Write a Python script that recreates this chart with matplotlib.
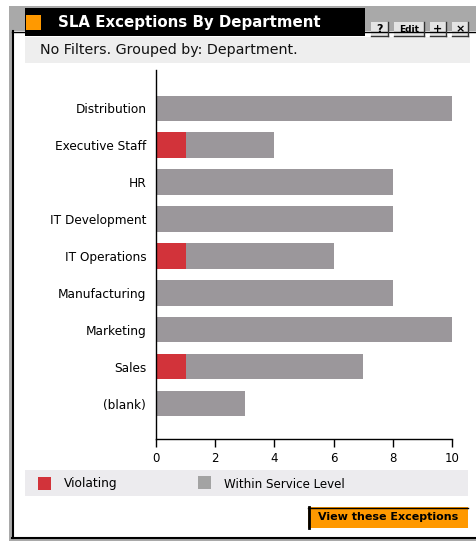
import matplotlib
matplotlib.use("Agg")
import matplotlib.pyplot as plt
from matplotlib.patches import Rectangle

departments = ["Distribution", "Executive Staff", "HR", "IT Development",
               "IT Operations", "Manufacturing", "Marketing", "Sales", "(blank)"]
violating = [0, 1, 0, 0, 1, 0, 0, 1, 0]
within = [10, 3, 8, 8, 5, 8, 10, 6, 3]
xticks = [0, 2, 4, 6, 8, 10]

RED = "#d2333a"
GRAY = "#9b979b"

W, H = 476, 541
fig = plt.figure(figsize=(W / 100, H / 100), dpi=100)
fig.patch.set_facecolor("white")


def rect(x0, y0, x1, y1, **kw):
    fig.patches.append(Rectangle((x0 / W, 1 - y1 / H), (x1 - x0) / W, (y1 - y0) / H,
                                 transform=fig.transFigure, zorder=-5, **kw))


def text(x, y, s, **kw):
    fig.text(x / W, 1 - y / H, s, **kw)


def line(xs, ys, **kw):
    fig.add_artist(plt.Line2D([v / W for v in xs], [1 - v / H for v in ys],
                              transform=fig.transFigure, zorder=-4, **kw))


# outer gray frame
rect(9, 6, 476, 31, facecolor="#a9a9a9", edgecolor="none", lw=0)
rect(9, 6, 12, 541, facecolor="#a9a9a9", edgecolor="none", lw=0)
rect(9, 538, 476, 541, facecolor="#a9a9a9", edgecolor="none", lw=0)
line([12.5, 12.5], [31, 538], color="black", lw=1.5)
line([12, 476], [537.5, 537.5], color="black", lw=1.5)
line([12, 476], [31.5, 31.5], color="black", lw=1)

# title bar
rect(25, 8, 365, 36, facecolor="black", edgecolor="none", lw=0)
rect(26, 15, 41, 30, facecolor="#ff9900", edgecolor="none", lw=0)
text(58, 22, "SLA Exceptions By Department", color="white", fontsize=10.8,
     fontweight="bold", va="center", ha="left", family="DejaVu Sans")

# small buttons
for x0, x1, lab in [(371, 388, "?"), (394, 424, "Edit"), (430, 446, "+"), (452, 468, "×")]:
    rect(x0, 22, x1, 36, facecolor="#e4e4e4", edgecolor="none", lw=0)
    line([x0, x1], [36, 36], color="#333333", lw=1)
    line([x1, x1], [22, 36], color="#333333", lw=1)
    text((x0 + x1) / 2, 29, lab, color="black", fontsize=8 if lab != "Edit" else 6.5,
         fontweight="bold", ha="center", va="center")

# subheader
rect(25, 37, 470, 63, facecolor="#eeeeee", edgecolor="none", lw=0)
text(40, 50, "No Filters. Grouped by: Department.", fontsize=10.3, va="center",
     ha="left", color="#111111")

# chart axes
ax_left, ax_right, ax_top, ax_bot = 156, 452, 70, 439
ax = fig.add_axes([ax_left / W, 1 - ax_bot / H, (ax_right - ax_left) / W, (ax_bot - ax_top) / H])
ax.set_zorder(5)
ypos = list(range(len(departments)))
ax.barh(ypos, violating, height=0.68, color=RED, lw=0)
ax.barh(ypos, within, left=violating, height=0.68, color=GRAY, lw=0)
ax.set_xlim(0, 10)
ax.set_ylim(8.95, -1.03)
ax.set_yticks(ypos)
ax.set_yticklabels(departments, fontsize=8.7)
ax.set_xticks(xticks)
ax.set_xticklabels([str(v) for v in xticks], fontsize=8.5)
ax.tick_params(axis="y", length=0, pad=7)
ax.tick_params(axis="x", length=6, width=1, direction="out", pad=3)
for s in ["top", "right"]:
    ax.spines[s].set_visible(False)
ax.spines["left"].set_linewidth(1)
ax.spines["bottom"].set_linewidth(1)
ax.patch.set_visible(False)

# legend
rect(25, 470, 468, 496, facecolor="#ecebee", edgecolor="none", lw=0)
rect(38, 477, 51, 490, facecolor=RED, edgecolor="none", lw=0)
text(64, 484, "Violating", fontsize=8.8, va="center", ha="left")
rect(198, 476, 211, 489, facecolor="#a3a3a3", edgecolor="none", lw=0)
text(224, 484, "Within Service Level", fontsize=8.6, va="center", ha="left")

# action button
rect(308, 507, 468, 528, facecolor="#ff9900", edgecolor="none", lw=0)
line([309, 309], [507, 528], color="black", lw=2)
line([308, 468], [507.5, 507.5], color="black", lw=1)
text(388, 517.5, "View these Exceptions", fontsize=8, fontweight="bold",
     va="center", ha="center", color="black")

fig.savefig("out.png", dpi=100)
